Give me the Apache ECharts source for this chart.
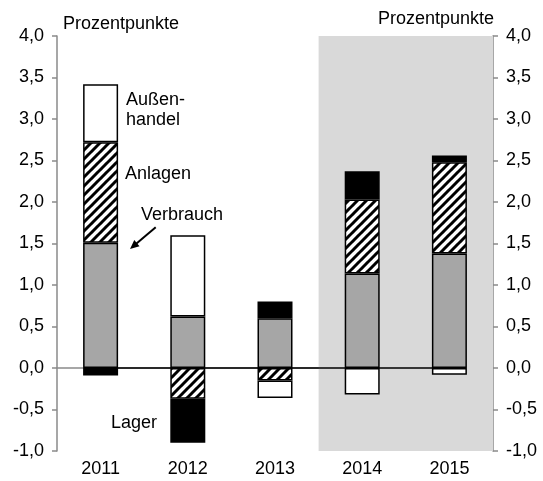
<!DOCTYPE html>
<html>
<head>
<meta charset="utf-8">
<script src="https://cdn.jsdelivr.net/npm/echarts@6/dist/echarts.min.js"></script>
<style>
html,body{margin:0;padding:0;background:#fff}
#chart{width:543px;height:481px}
</style>
</head>
<body>
<div id="chart"></div>
<script>
// Beiträge zum BIP-Wachstum, Prozentpunkte
const years = ['2011', '2012', '2013', '2014', '2015']
const verbrauch = [1.51, 0.62, 0.60, 1.14, 1.38]
const anlagen = [1.21, -0.37, -0.15, 0.89, 1.10]
const lager = [-0.09, -0.53, 0.20, 0.34, 0.08]
const aussenhandel = [0.70, 0.98, -0.21, -0.32, -0.08]
const zeroLine = [0, 0, 0, 0, 0]
const shadedYears = ['2014', '2015']
const yMin = -1, yMax = 4, yStep = 0.5

const FONT = 'Liberation Sans'
const TXT = '18px "Liberation Sans"'

// schraffur für Anlagen
function hatch() {
    let c = document.createElement('canvas')
    let s = 9
    c.width = s
    c.height = s
    let ctx = c.getContext('2d')
    ctx.fillStyle = '#fff'
    ctx.fillRect(0, 0, s, s)
    ctx.strokeStyle = '#000'
    ctx.lineWidth = 3
    for (let k = -1; k <= 1; k++) {
        ctx.beginPath()
        ctx.moveTo(k * s - 1, s + 1)
        ctx.lineTo(k * s + s + 1, -1)
        ctx.stroke()
    }
    return c
}

let fmt = v => v.toFixed(1).replace('.', ',')
let shadeFrom = years.indexOf(shadedYears[0]) - 0.5
let shadeTo = years.indexOf(shadedYears[shadedYears.length - 1]) + 0.5

let barStyle = (fill) => ({color: fill, borderColor: '#000', borderWidth: 1.5})

let yAxisBase = (pos) => ({
    type: 'value', min: yMin, max: yMax, interval: yStep,
    position: pos,
    axisLine: {show: true, onZero: false, lineStyle: {color: '#8a8a8a', width: 1.5}},
    axisTick: {show: true, length: 5, lineStyle: {color: '#8a8a8a', width: 1.5}},
    axisLabel: {color: '#000', fontSize: 18, fontFamily: FONT, margin: 13, formatter: fmt},
    splitLine: {show: false}
})

let my_chart = echarts.init(document.getElementById('chart'))
my_chart.setOption({
    animation: false,
    textStyle: {fontFamily: FONT},
    grid: {left: 57, right: 50, top: 36, bottom: 30},
    xAxis: [
        {   // labels unten
            type: 'category',
            data: years,
            position: 'bottom',
            axisLine: {show: false, onZero: false},
            axisTick: {show: false},
            axisLabel: {color: '#000', fontSize: 18, fontFamily: FONT, margin: 9}
        },
        {   // nulllinie mit ticks
            type: 'category',
            data: years,
            position: 'top',
            axisLine: {onZero: true, lineStyle: {color: '#8a8a8a', width: 1.5}},
            axisTick: {inside: true, length: 4, lineStyle: {color: '#8a8a8a', width: 1.5}},
            axisLabel: {show: false}
        },
        {   // hilfsachse für schattierung
            type: 'value',
            min: -0.5,
            max: years.length - 0.5,
            show: false,
            axisLine: {onZero: false}
        }
    ],
    yAxis: [yAxisBase('left'), yAxisBase('right')],
    series: [
        {
            name: 'shade',
            type: 'line',
            xAxisIndex: 2,
            yAxisIndex: 0,
            data: [],
            silent: true,
            z: 0,
            markArea: {
                silent: true,
                itemStyle: {color: '#d9d9d9'},
                data: [[{xAxis: shadeFrom, yAxis: yMin}, {xAxis: shadeTo, yAxis: yMax}]]
            }
        },
        {name: 'Verbrauch', type: 'bar', stack: 'bip', barWidth: 35, data: verbrauch, itemStyle: barStyle('#a6a6a6'), z: 3},
        {name: 'Anlagen', type: 'bar', stack: 'bip', barWidth: 35, data: anlagen, itemStyle: barStyle({image: hatch(), repeat: 'repeat'}), z: 3},
        {name: 'Lager', type: 'bar', stack: 'bip', barWidth: 35, data: lager, itemStyle: barStyle('#000'), z: 3},
        {name: 'Außenhandel', type: 'bar', stack: 'bip', barWidth: 35, data: aussenhandel, itemStyle: barStyle('#fff'), z: 3},
        {
            name: 'null',
            type: 'line',
            data: zeroLine,
            symbol: 'none',
            lineStyle: {color: '#000', width: 1.5},
            z: 5
        }
    ],
    graphic: [
        {type: 'text', left: 63, top: 15, style: {text: 'Prozentpunkte', font: TXT, fill: '#000'}},
        {type: 'text', right: 49, top: 10, style: {text: 'Prozentpunkte', font: TXT, fill: '#000'}},
        {type: 'text', x: 126, y: 100, style: {text: 'Außen-', font: TXT, fill: '#000', verticalAlign: 'middle'}},
        {type: 'text', x: 126, y: 120.5, style: {text: 'handel', font: TXT, fill: '#000', verticalAlign: 'middle'}},
        {type: 'text', x: 125, y: 174.5, style: {text: 'Anlagen', font: TXT, fill: '#000', verticalAlign: 'middle'}},
        {type: 'text', x: 141, y: 215.5, style: {text: 'Verbrauch', font: TXT, fill: '#000', verticalAlign: 'middle'}},
        {type: 'text', x: 111, y: 423, style: {text: 'Lager', font: TXT, fill: '#000', verticalAlign: 'middle'}},
        {type: 'line', shape: {x1: 155.7, y1: 227.3, x2: 136.5, y2: 243.5}, style: {stroke: '#000', lineWidth: 2}, z: 10},
        {type: 'polygon', shape: {points: [[130, 249], [139.5, 246.3], [134.3, 240.1]]}, style: {fill: '#000'}, z: 10}
    ]
})
</script>
</body>
</html>
